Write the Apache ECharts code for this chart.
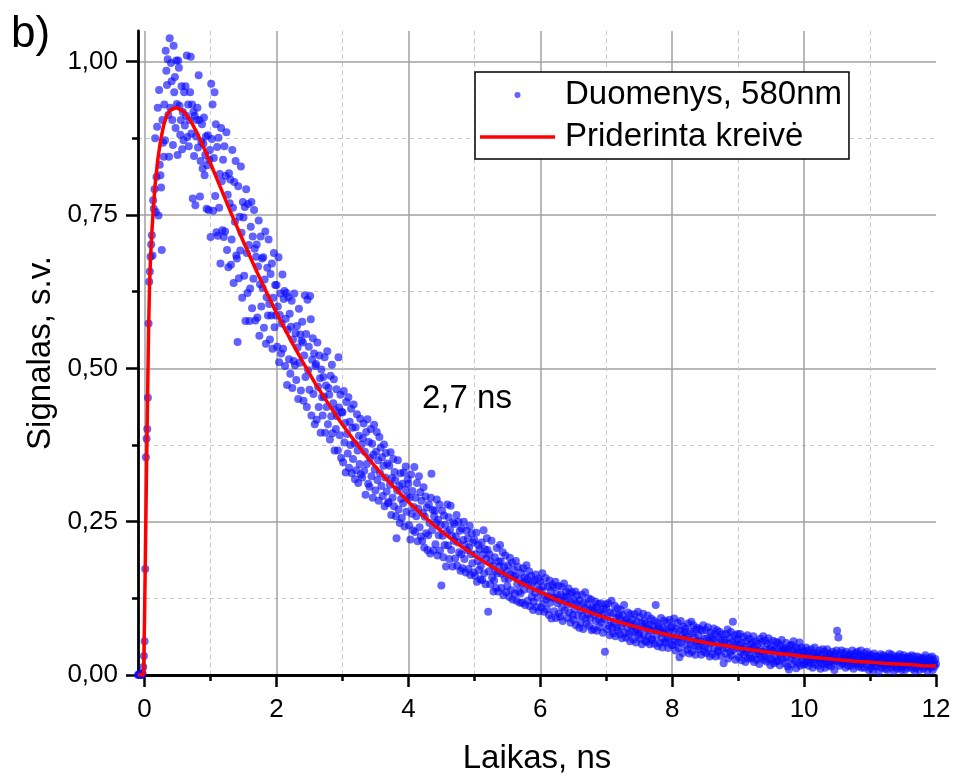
<!DOCTYPE html>
<html>
<head>
<meta charset="utf-8">
<script src="https://cdn.jsdelivr.net/npm/echarts@6/dist/echarts.min.js"></script>
<style>
  html, body { margin: 0; padding: 0; background: #fff; }
  #chart { width: 955px; height: 774px; }
</style>
</head>
<body>
<div id="chart"></div>
<script>
// Time step of the recorded decay, ns
const DT = 0.01;

// Recorded signal, in units of 1e-3, one block per nanosecond
const sigLead = [0,1,0,2,0,1,0,2,13,31];                       // -0.10 … -0.01 ns
const sig00 = [55,173,355,385,401,452,573,641,658,682,
  702,717,684,774,760,792,875,755,812,894,
  925,749,954,832,815,795,693,905,868,845,
  930,872,1018,985,962,1004,913,845,1038,925,
  998,968,905,864,1026,950,975,892,1002,931,
  848,1002,990,928,881,905,960,857,918,872,
  950,896,960,912,1010,877,930,862,905,950,
  1008,883,930,777,918,846,912,766,878,905,
  925,860,978,905,780,838,870,898,826,866,
  909,815,848,878,760,831,880,758,840,856];
const sig01 = [714,964,874,930,757,843,950,781,898,722,
  861,716,876,762,817,671,892,805,725,840,
  714,862,723,814,885,693,783,665,818,769,
  808,669,710,856,762,639,804,739,838,684,
  679,543,797,647,747,692,829,721,615,771,
  746,651,763,577,792,688,623,768,701,577,
  630,731,771,598,715,646,758,695,578,682,
  702,583,666,741,553,637,715,601,679,631,
  681,566,645,723,540,616,664,586,710,605,
  547,654,586,671,532,615,688,567,636,586];
const sig02 = [636,535,601,681,510,587,622,524,573,653,
  532,613,626,504,581,623,473,563,616,515,
  589,491,568,610,468,547,512,622,505,557,
  481,569,534,450,597,509,555,464,545,576,
  542,447,521,619,486,556,437,612,497,535,
  465,618,580,423,514,549,458,524,409,504,
  507,416,542,470,437,521,484,395,498,453,
  423,486,454,518,395,472,437,528,409,468,
  457,384,488,422,506,394,443,482,366,432,
  401,466,422,366,518,436,391,457,354,429];
const sig03 = [428,347,463,379,411,330,445,393,361,453,
  338,413,375,434,329,403,352,441,378,319,
  404,334,425,366,313,390,344,418,327,376,
  322,386,410,333,364,294,396,344,417,312,
  380,307,354,401,324,377,289,359,408,335,
  301,364,396,318,350,284,388,329,371,308,
  355,292,341,376,275,322,362,299,345,280,
  282,341,310,363,261,321,289,352,275,331,
  318,259,223,301,350,270,308,248,329,287,
  256,312,280,330,242,302,340,266,291,319];
const sig04 = [312,244,289,221,327,263,300,236,274,339,
  233,289,259,313,218,271,324,241,298,226,
  284,219,264,306,208,258,291,231,273,204,
  228,278,248,198,289,328,236,269,203,259,
  268,213,248,286,195,253,228,278,203,244,
  146,268,227,192,260,212,245,177,233,278,
  211,257,189,237,276,204,227,177,249,219,
  246,190,226,261,178,216,250,200,235,170,
  197,239,174,220,250,189,212,167,235,204,
  223,173,208,243,163,197,231,182,216,167];
const sig05 = [220,162,197,232,152,186,212,171,205,156,
  178,216,155,196,236,166,205,148,190,223,
  204,103,169,197,148,185,219,159,179,136,
  154,192,169,142,207,166,136,185,177,212,
  185,142,165,200,130,176,157,195,135,170,
  145,179,157,127,191,164,138,183,123,161,
  171,133,161,186,121,148,176,136,156,118,
  133,167,149,118,174,139,159,114,152,179,
  157,121,147,169,112,139,162,127,151,106,
  119,154,134,164,111,145,126,157,104,139];
const sig06 = [153,110,136,166,116,145,103,129,158,123,
  107,144,128,98,154,118,137,92,147,126,
  143,104,126,152,93,132,117,145,100,122,
  95,131,144,110,88,127,149,105,121,136,
  128,93,115,141,102,132,85,119,135,98,
  90,123,107,136,81,117,130,97,113,77,
  122,85,105,131,96,75,118,109,135,92,
  84,115,99,125,80,106,93,123,73,110,
  107,75,98,120,88,111,72,101,116,90,
  78,104,117,86,99,69,108,91,38,115];
const sig07 = [109,75,96,117,80,65,102,87,121,77,
  68,101,84,113,63,93,78,109,72,97,
  94,66,106,79,60,98,85,114,69,89,
  61,90,77,102,67,86,55,99,80,70,
  91,58,81,99,70,53,87,74,103,65,
  69,94,59,84,50,79,100,66,88,56,
  84,54,76,97,63,82,50,72,92,59,
  57,80,89,51,73,114,64,85,47,76,
  81,52,71,93,60,45,77,68,89,55,
  52,74,86,59,44,71,90,61,78,49];
const sig08 = [79,49,70,92,56,40,75,62,85,53,
  44,29,73,88,53,66,36,79,60,70,
  76,48,63,41,84,58,35,71,50,87,
  38,68,81,48,61,33,74,55,77,46,
  64,42,75,55,33,72,49,81,38,59,
  47,73,36,60,78,43,56,30,69,52,
  63,34,57,76,43,66,30,53,73,40,
  38,61,70,48,31,57,66,44,19,53,
  57,35,67,44,74,27,51,61,38,70,
  32,54,87,41,65,49,25,58,45,67];
const sig09 = [58,29,49,67,37,24,52,42,62,33,
  46,21,55,37,65,27,42,59,31,50,
  27,53,43,63,21,46,34,55,25,40,
  51,34,18,59,41,28,53,38,63,25,
  31,56,41,22,51,36,60,26,43,16,
  48,26,39,56,19,41,31,54,22,44,
  23,52,35,16,48,29,57,39,26,42,
  44,19,39,52,29,14,42,9,36,48,
  27,49,17,40,55,32,23,45,11,36,
  43,20,36,53,15,30,45,24,40,17];
const sig10 = [38,18,32,45,22,28,40,15,35,25,
  20,42,30,12,36,25,45,18,32,28,
  35,15,28,40,22,10,33,26,42,18,
  25,38,12,30,20,42,28,16,35,22,
  32,14,26,38,20,30,8,35,24,40,
  72,22,61,30,15,36,25,40,18,28,
  20,35,26,12,38,22,30,15,32,25,
  34,15,28,40,20,10,32,25,36,18,
  22,38,14,28,33,18,40,12,30,24,
  30,12,35,22,26,38,16,28,8,33];
const sig11 = [28,12,32,20,8,25,35,15,22,30,
  14,30,22,5,26,18,34,12,28,20,
  32,15,25,10,30,22,8,28,18,35,
  20,28,12,33,16,25,6,22,30,14,
  26,10,30,18,24,34,12,20,8,28,
  15,32,22,8,28,18,26,12,30,20,
  28,14,20,32,10,24,18,30,6,22,
  12,25,30,16,22,8,28,18,26,14,
  24,10,28,18,32,14,22,6,26,20,
  16,28,12,22,30,8,24,18,14,26,
  18];

// Start time of each block, ns
const blocks = [
  [-0.10, sigLead], [0, sig00], [1, sig01], [2, sig02], [3, sig03], [4, sig04],
  [5, sig05], [6, sig06], [7, sig07], [8, sig08], [9, sig09], [10, sig10], [11, sig11]
];

// Fitted curve (time ns, signal)
const fitCurve = [
  [-0.10,0],[-0.015,0],[0.0,0.10],[0.015,0.22],[0.03,0.34],[0.045,0.45],[0.06,0.56],
  [0.075,0.635],[0.09,0.68],[0.112,0.726],[0.135,0.765],[0.162,0.802],[0.2,0.84],
  [0.24,0.87],[0.29,0.897],[0.34,0.913],[0.4,0.922],[0.49,0.925],[0.6,0.918],
  [0.7,0.903],[0.8,0.883],[0.9,0.859],[1.0,0.834],[1.1,0.808],[1.2,0.782],[1.3,0.756],
  [1.4,0.731],[1.5,0.706],[1.6,0.682],[1.7,0.658],[1.8,0.635],[2.0,0.590],[2.2,0.549],
  [2.4,0.510],[2.6,0.473],
  [2.8,0.440],[3.0,0.408],[3.2,0.379],[3.4,0.352],[3.6,0.327],[3.8,0.304],[4.0,0.282],
  [4.2,0.262],[4.4,0.243],[4.6,0.226],[4.8,0.210],[5.0,0.195],[5.2,0.181],[5.4,0.168],
  [5.6,0.156],[5.8,0.145],[6.0,0.135],[6.2,0.125],[6.4,0.116],[6.6,0.108],[6.8,0.100],
  [7.0,0.093],[7.2,0.086],[7.4,0.080],[7.6,0.074],[7.8,0.069],[8.0,0.064],[8.2,0.060],
  [8.4,0.055],[8.6,0.051],[8.8,0.048],[9.0,0.044],[9.2,0.041],[9.4,0.038],[9.6,0.035],
  [9.8,0.033],[10.0,0.030],[10.2,0.028],[10.4,0.026],[10.6,0.024],[10.8,0.022],
  [11.0,0.021],[11.2,0.019],[11.4,0.018],[11.6,0.017],[11.8,0.015],[12.0,0.0145]
];

// Axis ticks
const xMajor = [0, 2, 4, 6, 8, 10, 12];
const xMinor = [1, 3, 5, 7, 9, 11];
const xGridMajor = [0, 2, 4, 6, 8, 10];
const yMajor = [0, 0.25, 0.5, 0.75, 1.0];
const yMinor = [0.125, 0.375, 0.625, 0.875];
const yGridMajor = [0.25, 0.5, 0.75, 1.0];

const FONT = '"Liberation Sans", Arial, Helvetica, sans-serif';

const points = [];
blocks.forEach(([t0, vals]) => {
  vals.forEach((v, i) => points.push([+(t0 + i * DT).toFixed(2), v / 1000]));
});

const fmtY = v => v.toFixed(2).replace('.', ',');

function baseAxis(extra) {
  return Object.assign({
    type: 'value',
    axisLine: { show: false, onZero: false },
    axisTick: { show: false },
    axisLabel: { show: false },
    splitLine: { show: false },
    minorTick: { show: false },
    minorSplitLine: { show: false }
  }, extra);
}

const tickStyle = { color: '#000', width: 2.5 };
const majorGrid = { color: '#a0a0a0', width: 1.5, type: 'solid' };
const minorGrid = { color: '#c8c8c8', width: 1, type: [4, 4] };

const option = {
  animation: false,
  backgroundColor: '#fff',
  grid: { left: 138, right: 19, top: 31, bottom: 99, containLabel: false, outerBoundsMode: 'none' },
  xAxis: [
    baseAxis({
      min: -0.1, max: 12, position: 'bottom',
      axisLine: { show: true, onZero: false, lineStyle: { color: '#000', width: 2.8 } },
      axisTick: { show: true, inside: false, length: 12, customValues: xMajor, lineStyle: tickStyle },
      axisLabel: { show: true, customValues: xMajor, margin: 22, fontSize: 26, color: '#000',
                   fontFamily: FONT, hideOverlap: false },
      name: 'Laikas, ns', nameLocation: 'middle', nameGap: 67, nameMoveOverlap: false,
      nameTextStyle: { fontSize: 33, color: '#000', fontFamily: FONT }
    }),
    baseAxis({
      min: -0.1, max: 12, position: 'bottom',
      axisTick: { show: true, inside: false, length: 6, customValues: xMinor, lineStyle: tickStyle },
      splitLine: { show: true, lineStyle: minorGrid }
    }),
    baseAxis({
      min: -0.1, max: 12, position: 'bottom',
      axisTick: { show: false, customValues: xGridMajor },
      splitLine: { show: true, lineStyle: majorGrid }
    })
  ],
  yAxis: [
    baseAxis({
      min: 0, max: 1.05, position: 'left',
      axisLine: { show: true, onZero: false, lineStyle: { color: '#000', width: 2.8 } },
      axisTick: { show: true, inside: false, length: 12, customValues: yMajor, lineStyle: tickStyle },
      axisLabel: { show: true, customValues: yMajor, margin: 20, fontSize: 26, color: '#000',
                   fontFamily: FONT, formatter: fmtY, hideOverlap: false },
      name: 'Signalas, s.v.', nameLocation: 'middle', nameGap: 81, nameMoveOverlap: false,
      nameTextStyle: { fontSize: 33, color: '#000', fontFamily: FONT }
    }),
    baseAxis({
      min: 0, max: 1.05, position: 'left',
      axisTick: { show: true, inside: false, length: 6, customValues: yMinor, lineStyle: tickStyle },
      splitLine: { show: true, lineStyle: minorGrid }
    }),
    baseAxis({
      min: 0, max: 1.05, position: 'left',
      axisTick: { show: false, customValues: yGridMajor },
      splitLine: { show: true, lineStyle: majorGrid }
    })
  ],
  legend: {
    orient: 'vertical',
    left: 475, top: 72,
    itemWidth: 75, itemHeight: 6, itemGap: 4,
    padding: [4, 7, 3, 5],
    borderColor: '#000', borderWidth: 1.5, backgroundColor: '#fff',
    textStyle: { fontSize: 33, color: '#000', fontFamily: FONT, lineHeight: 38, padding: [0, 0, 0, 5] },
    data: [
      { name: 'Duomenys, 580nm', icon: 'circle' },
      { name: 'Priderinta kreivė', icon: 'path://M0,0H75V3.5H0Z' }
    ]
  },
  graphic: [
    { type: 'text', x: 11, y: 35, style: { text: 'b)', font: '44px ' + FONT, fill: '#000',
      align: 'left', verticalAlign: 'middle' } },
    { type: 'text', x: 422, y: 399, style: { text: '2,7 ns', font: '33px ' + FONT, fill: '#000',
      align: 'left', verticalAlign: 'middle' } }
  ],
  series: [
    {
      name: 'Duomenys, 580nm',
      type: 'scatter',
      xAxisIndex: 0, yAxisIndex: 0,
      data: points,
      symbol: 'circle',
      symbolSize: 8,
      itemStyle: { color: 'rgba(10,10,255,0.8)' },
      emphasis: { disabled: true },
      z: 2
    },
    {
      name: 'Priderinta kreivė',
      type: 'line',
      xAxisIndex: 0, yAxisIndex: 0,
      data: fitCurve,
      symbol: 'none',
      showSymbol: false,
      smooth: false,
      lineStyle: { color: '#ff0000', width: 3.5 },
      itemStyle: { color: '#ff0000' },
      emphasis: { disabled: true },
      z: 3
    }
  ]
};

const chart = echarts.init(document.getElementById('chart'), null, { renderer: 'canvas' });
chart.setOption(option);
</script>
</body>
</html>
